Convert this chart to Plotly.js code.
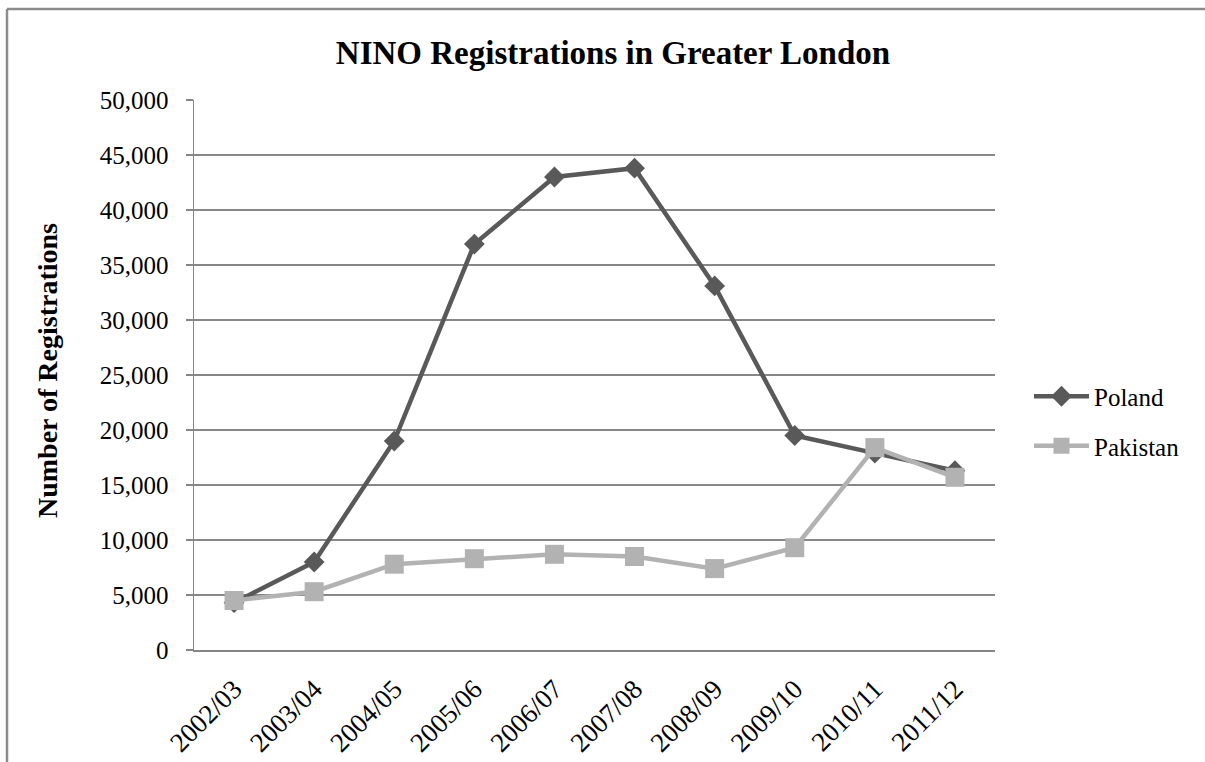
<!DOCTYPE html>
<html>
<head>
<meta charset="utf-8">
<script src="https://cdn.plot.ly/plotly-3.0.1.min.js"></script>
<style>html,body{margin:0;padding:0;background:#fff;}#chart{width:1205px;height:762px;}</style>
</head>
<body>
<div id="chart"></div>
<script>
var years = ["2002/03","2003/04","2004/05","2005/06","2006/07","2007/08","2008/09","2009/10","2010/11","2011/12"];
var poland = [4300, 8000, 19000, 36900, 43000, 43800, 33100, 19500, 17900, 16300];
var pakistan = [4500, 5300, 7800, 8300, 8700, 8500, 7400, 9300, 18400, 15700];
var yTicks = [0, 5000, 10000, 15000, 20000, 25000, 30000, 35000, 40000, 45000, 50000];

var FONT = "Liberation Serif, Times New Roman, serif";

var traces = [
  {
    x: years, y: poland, name: "Poland", type: "scatter", mode: "lines+markers",
    legendgroup: "a",
    line: {color: "#595959", width: 4.5},
    marker: {symbol: "diamond", size: 16, color: "#595959"}
  },
  {
    x: years, y: pakistan, name: "Pakistan", type: "scatter", mode: "lines+markers",
    legendgroup: "b",
    line: {color: "#b2b2b2", width: 4.5},
    marker: {symbol: "square", size: 19, color: "#b2b2b2"}
  }
];

var layout = {
  width: 1205, height: 762, autosize: false,
  paper_bgcolor: "#ffffff", plot_bgcolor: "#ffffff",
  margin: {l: 194, r: 210, t: 100, b: 112, pad: 0},
  font: {family: FONT, color: "#000000", size: 25},
  title: {
    text: "<b>NINO Registrations in Greater London</b>",
    font: {family: FONT, size: 33, color: "#000000"},
    x: 613/1205, xanchor: "center", xref: "container",
    y: 1 - 52/762, yanchor: "middle", yref: "container"
  },
  xaxis: {
    type: "category",
    tickangle: -45,
    showgrid: false,
    showline: true, linecolor: "#868686", linewidth: 1.5,
    ticks: "", tickfont: {family: FONT, size: 27, color: "#000"},
    ticklabelstandoff: 11,
    zeroline: false,
    range: [-0.5, 9.5]
  },
  yaxis: {
    range: [0, 50000],
    tickvals: yTicks,
    tickformat: ",d",
    showgrid: true, gridcolor: "#878787", gridwidth: 1.5,
    showline: true, linecolor: "#868686", linewidth: 1.5,
    ticks: "outside", ticklen: 7, tickcolor: "#868686", tickwidth: 1.5,
    tickfont: {family: FONT, size: 25, color: "#000"},
    ticklabelstandoff: 12,
    zeroline: false,
    automargin: false
  },
  legend: {
    x: (1029 - 194) / 801, xanchor: "left",
    y: (650 - 421) / 550, yanchor: "middle",
    font: {family: FONT, size: 25, color: "#000"},
    traceorder: "grouped", tracegroupgap: 14,
    itemwidth: 55,
    bgcolor: "rgba(0,0,0,0)"
  },
  annotations: [
    {
      text: "<b>Number of Registrations</b>",
      xref: "paper", yref: "paper",
      x: (47 - 194) / 801, y: (650 - 371) / 550,
      xanchor: "center", yanchor: "middle",
      textangle: -90, showarrow: false,
      font: {family: FONT, size: 28, color: "#000"}
    }
  ],
  shapes: [
    {type: "line", xref: "paper", yref: "paper",
     x0: (7 - 194) / 801, x1: (1215 - 194) / 801,
     y0: (650 - 9) / 550, y1: (650 - 9) / 550,
     line: {color: "#8c8c8c", width: 2.5}},
    {type: "line", xref: "paper", yref: "paper",
     x0: (7 - 194) / 801, x1: (7 - 194) / 801,
     y0: (650 - 9) / 550, y1: (650 - 780) / 550,
     line: {color: "#8c8c8c", width: 2.5}}
  ],
  showlegend: true,
  hovermode: false
};

Plotly.newPlot("chart", traces, layout, {displayModeBar: false, staticPlot: true});
</script>
</body>
</html>
